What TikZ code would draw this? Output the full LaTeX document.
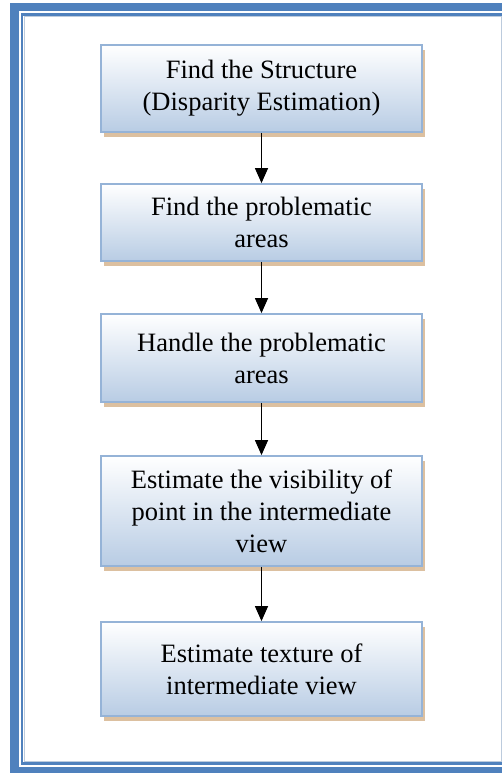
\documentclass[tikz,border=0pt]{standalone}
\usepackage{fontspec}
\setmainfont{Liberation Serif}
\usetikzlibrary{shadows,arrows.meta}
\definecolor{frameblue}{HTML}{4F81BD}
\definecolor{innergray}{HTML}{BCCBDD}
\definecolor{boxborder}{HTML}{95B3D7}
\definecolor{boxbottom}{HTML}{B8CCE4}
\definecolor{shadowtan}{HTML}{DCC0A0}
\begin{document}
\begin{tikzpicture}[x=1pt,y=1pt,
  stepbox/.style={draw=boxborder, line width=1.8pt, top color=white, bottom color=boxbottom,
    minimum width=321pt, align=center, inner sep=0pt,
    font=\fontsize{26.5}{32}\selectfont,
    drop shadow={shadow xshift=3pt, shadow yshift=-5pt, fill=shadowtan, opacity=1}},
  arr/.style={-{Triangle[length=15pt,width=13pt]}, line width=1.3pt, black}]
\useasboundingbox (0,0) rectangle (502,-773);
\begin{scope}
\clip (0,0) rectangle (502,-773);
\fill[white] (0,0) rectangle (502,-773);
\draw[frameblue, line width=8.5pt] (14.5,-7) rectangle (520,-771);
\draw[frameblue, line width=2.5pt] (22,-14.5) rectangle (530,-763.5);
\draw[innergray, line width=1pt] (24,-16.5) rectangle (501,-761);
\end{scope}
\node[stepbox, minimum height=87pt] (b1) at (261.5,-88.5) {Find the Structure\\(Disparity Estimation)};
\node[stepbox, minimum height=77pt] (b2) at (261.5,-222.5) {Find the problematic\\areas};
\node[stepbox, minimum height=88pt] (b3) at (261.5,-358) {Handle the problematic\\areas};
\node[stepbox, minimum height=110pt] (b4) at (261.5,-511) {Estimate the visibility of\\point in the intermediate\\view};
\node[stepbox, minimum height=94pt] (b5) at (261.5,-669) {Estimate texture of\\intermediate view};
\draw[arr] (b1.south) -- (b2.north);
\draw[arr] (b2.south) -- (b3.north);
\draw[arr] (b3.south) -- (b4.north);
\draw[arr] (b4.south) -- (b5.north);
\end{tikzpicture}
\end{document}
